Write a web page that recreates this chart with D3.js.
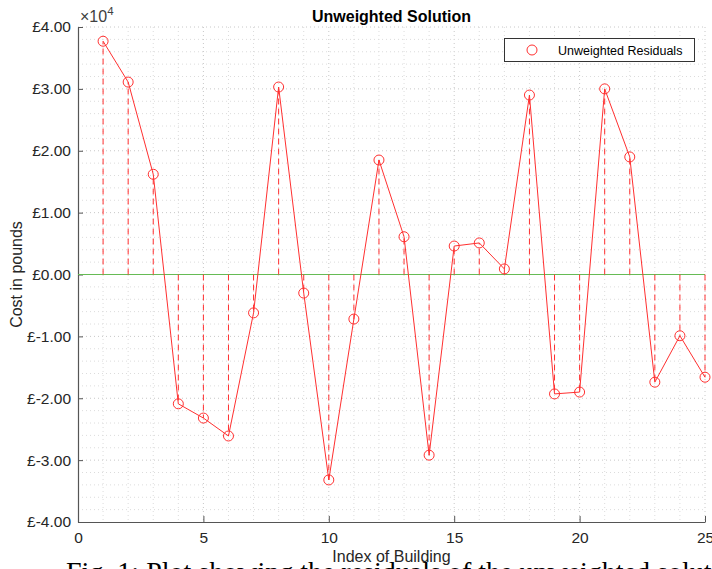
<!DOCTYPE html>
<html><head><meta charset="utf-8">
<script src="https://cdn.jsdelivr.net/npm/d3@7"></script>
<style>
html,body{margin:0;padding:0;background:#fff;overflow:hidden}
svg{display:block}
</style></head><body>
<svg id="c" width="712" height="569"></svg>
<script>
const buildingIndex = [1,2,3,4,5,6,7,8,9,10,11,12,13,14,15,16,17,18,19,20,21,22,23,24,25];
const residuals = [37700,31100,16200,-20900,-23200,-26100,-6200,30300,-3000,-33200,-7200,18500,6100,-29200,4600,5100,900,29000,-19300,-19000,30000,19000,-17400,-9900,-16600];
const xTicks = [0,5,10,15,20,25];
const yTicks = [-40000,-30000,-20000,-10000,0,10000,20000,30000,40000];
const titleText = "Unweighted Solution";
const xLabel = "Index of Building";
const yLabel = "Cost in pounds";
const legendLabel = "Unweighted Residuals";
const captionText = "Fig. 1: Plot showing the residuals of the unweighted solution";

const svg = d3.select("#c");
const L = 78, R = 705, T = 27, B = 522;
const x = d3.scaleLinear().domain([0,25]).range([L,R]);
const y = d3.scaleLinear().domain([-40000,40000]).range([B,T]);
const font = "'Liberation Sans', Arial, Helvetica, sans-serif";
const red = "#ff3030";

// grid
const g = svg.append("g");
g.selectAll(".gx").data(d3.range(1,26)).enter().append("line")
  .attr("x1",d=>x(d)).attr("x2",d=>x(d)).attr("y1",T).attr("y2",B)
  .attr("stroke",d=>d%5===0?"#c8c8c8":"#dcdcdc").attr("stroke-width",1).attr("stroke-dasharray","1,3");
g.selectAll(".gy").data(d3.range(-38000,40001,2000)).enter().append("line")
  .attr("x1",L).attr("x2",R).attr("y1",d=>y(d)).attr("y2",d=>y(d))
  .attr("stroke",d=>d%10000===0?"#c8c8c8":"#dcdcdc").attr("stroke-width",1).attr("stroke-dasharray","1,3");

// axes
const fmt = d => "£" + (d/10000).toFixed(2);
const yAxis = d3.axisLeft(y).tickValues(yTicks).tickFormat(fmt).tickSizeInner(-5).tickSizeOuter(0).tickPadding(7);
const ya = svg.append("g").attr("transform",`translate(${L},0)`).call(yAxis);
const xAxis = d3.axisBottom(x).tickValues(xTicks).tickSizeInner(-6).tickSizeOuter(0).tickPadding(10);
const xa = svg.append("g").attr("transform",`translate(0,${B})`).call(xAxis);
[ya,xa].forEach(a=>{
  a.select(".domain").attr("stroke","#555").attr("stroke-width",1.2);
  a.selectAll(".tick line").attr("stroke","#555");
  a.selectAll(".tick text").attr("fill","#262626").style("font-family",font).style("font-size","15.5px");
});

// baseline
svg.append("line").attr("x1",L).attr("x2",R).attr("y1",y(0)).attr("y2",y(0))
  .attr("stroke","#66bb55").attr("stroke-width",1.2);

// stems
svg.selectAll(".stem").data(buildingIndex).enter().append("line")
  .attr("x1",d=>x(d)).attr("x2",d=>x(d)).attr("y1",y(0)).attr("y2",(d,i)=>y(residuals[i]))
  .attr("stroke",red).attr("stroke-width",1).attr("stroke-dasharray","6,4");

// line
const line = d3.line().x((d,i)=>x(buildingIndex[i])).y(d=>y(d));
svg.append("path").datum(residuals).attr("d",line).attr("fill","none").attr("stroke",red).attr("stroke-width",1);

// markers
svg.selectAll(".pt").data(residuals).enter().append("circle")
  .attr("cx",(d,i)=>x(buildingIndex[i])).attr("cy",d=>y(d)).attr("r",5)
  .attr("fill","none").attr("stroke",red).attr("stroke-width",1);

// exponent
const ex = svg.append("text").attr("x",80).attr("y",22).attr("fill","#404040").style("font-family",font).style("font-size","16px");
ex.append("tspan").text("×10");
ex.append("tspan").attr("dy",-7).style("font-size","11.5px").text("4");

// title
svg.append("text").attr("x",(L+R)/2).attr("y",22).attr("text-anchor","middle")
  .style("font-family",font).style("font-size","16px").style("font-weight","bold").attr("fill","#000").text(titleText);

// labels
svg.append("text").attr("x",(L+R)/2).attr("y",562).attr("text-anchor","middle")
  .style("font-family",font).style("font-size","16px").attr("fill","#262626").text(xLabel);
svg.append("text").attr("transform",`translate(22,${(T+B)/2}) rotate(-90)`).attr("text-anchor","middle")
  .style("font-family",font).style("font-size","16px").attr("fill","#262626").text(yLabel);

// legend
svg.append("rect").attr("x",504.5).attr("y",38.5).attr("width",190).attr("height",23)
  .attr("fill","#fff").attr("stroke","#333").attr("stroke-width",1);
svg.append("circle").attr("cx",532).attr("cy",50).attr("r",5).attr("fill","none").attr("stroke",red);
svg.append("text").attr("x",558).attr("y",55).style("font-family",font).style("font-size","12.5px").attr("fill","#000").text(legendLabel);

// caption
svg.append("text").attr("x",66).attr("y",581).style("font-family","'Liberation Serif', 'Times New Roman', serif")
  .style("font-size","28px").attr("fill","#000").text(captionText);
</script>
</body></html>
